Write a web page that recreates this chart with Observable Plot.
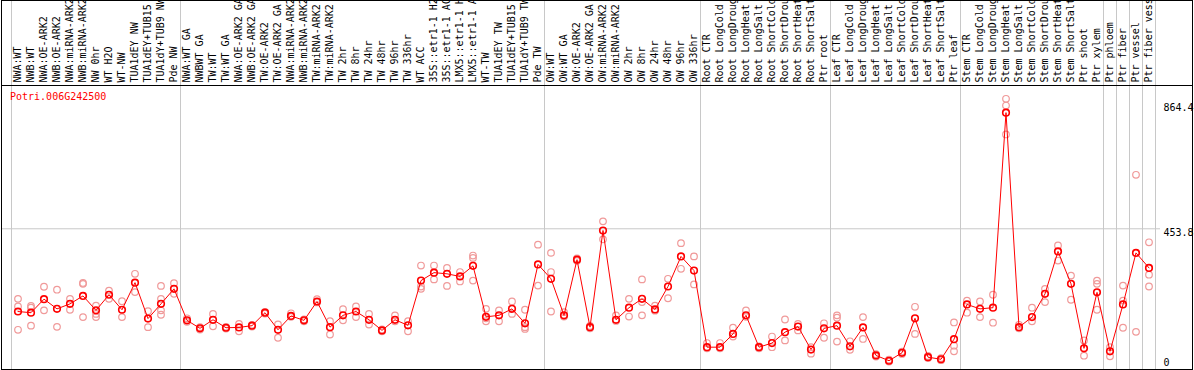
<!DOCTYPE html>
<html>
<head>
<meta charset="utf-8">
<script src="https://cdn.jsdelivr.net/npm/d3@7"></script>
<script src="https://cdn.jsdelivr.net/npm/@observablehq/plot@0.6"></script>
<style>
  html, body { margin: 0; padding: 0; background: white; }
</style>
</head>
<body>
<div id="chart"></div>
<script>
const geneName = "Potri.006G242500";

const labels = [
  "NWA:WT","NWB:WT","NWA:OE-ARK2","NWB:OE-ARK2","NWA:miRNA-ARK2","NWB:miRNA-ARK2","NW 0hr","WT H2O","WT-NW","TUA1dEY NW","TUA1dEY+TUB15 NW","TUA1dY+TUB9 NW","Pde NW",
  "NWA:WT GA","NWBWT GA","TW:WT","TW:WT GA","NWA:OE-ARK2 GA","NWB:OE-ARK2 GA","TW:OE-ARK2","TW:OE-ARK2 GA","NWA:miRNA-ARK2 GA","NWB:miRNA-ARK2 GA","TW:miRNA-ARK2","TW:miRNA-ARK2 GA",
  "TW 2hr","TW 8hr","TW 24hr","TW 48hr","TW 96hr","TW 336hr","WT ACC","35S::etr1-1 H2O","35S::etr1-1 ACC","LMX5::etr1-1 H2O","LMX5::etr1-1 ACC","WT-TW","TUA1dEY TW","TUA1dEY+TUB15 TW","TUA1dY+TUB9 TW","Pde TW",
  "OW:WT","OW:WT GA","OW:OE-ARK2","OW:OE-ARK2 GA","OW:miRNA-ARK2","OW:miRNA-ARK2 GA","OW 2hr","OW 8hr","OW 24hr","OW 48hr","OW 96hr","OW 336hr",
  "Root CTR","Root LongCold","Root LongDrought","Root LongHeat","Root LongSalt","Root ShortCold","Root ShortDrought","Root ShortHeat","Root ShortSalt","Ptr root",
  "Leaf CTR","Leaf LongCold","Leaf LongDrought","Leaf LongHeat","Leaf LongSalt","Leaf ShortCold","Leaf ShortDrought","Leaf ShortHeat","Leaf ShortSalt","Ptr leaf",
  "Stem CTR","Stem LongCold","Stem LongDrought","Stem LongHeat","Stem LongSalt","Stem ShortCold","Stem ShortDrought","Stem ShortHeat","Stem ShortSalt","Ptr shoot","Ptr xylem",
  "Ptr phloem","Ptr fiber","Ptr vessel","Ptr fiber vessel"
];

const mainValues = [
  173,169,215,182,199,226,177,230,179,271,149,199,250,
  143,116,145,118,119,125,169,111,158,143,207,120,160,173,145,109,145,126,278,305,301,292,328,155,160,182,133,333,
  284,160,349,120,448,145,186,216,180,258,360,312,
  52,52,97,160,52,66,103,122,44,116,
  125,55,119,24,6,33,150,18,11,79,
  197,182,186,848,120,154,233,377,267,48,238,
  38,197,372,321
];

const replicates = [
  [216,190,111],[192,186,125],[257,177],[247,121],[216,179],[267,270,154],[193,165,154],[244,216],[208,154],[301,239],[174,120],[260,216,177,162],[269,233],
  [150,138],[120,112],[165,123],[121,115],[131,106],[128,122],[172,166],[129,84],[167,155],[146,140],[215,204],[140,95],[181,143],[190,154],[165,129],[112,106],[160,140],[140,106],[329,258,250],[329,282],[321,260],[307,275],[363,355,278],[182,140,150],[177,140],[207,165],[179,114,120],[400,261],
  [372,307,173],[171,156],[353,345],[124,116],[479,418],[160,141],[216,156],[282,205,160],[193,176],[284,218],[405,318],[360,265],
  [66,48],[66,48],[118,88],[177,155],[55,48],[88,52],[146,75],[131,109],[52,30],[133,84],
  [160,152,71],[72,43],[154,80],[28,20],[10,3],[37,29],[189,97],[22,15],[15,8],[136,57,38],
  [210,169],[207,154],[230,135],[895,872,774],[128,116],[186,140],[250,205],[397,346],[295,213],[75,23],[278,267,179],
  [52,21],[261,210,118],[637,104],[408,298,258]
];

// group boundaries (category index where a group starts/ends)
const groupBounds = [0, 13, 41, 53, 63, 73, 84, 85, 86, 87, 88];

const yTicksCentered = [864.4, 0];
const yTicksBelow = [453.8];

const repPoints = replicates.flatMap((arr, i) => arr.map(v => ({i, v})));

const chart = Plot.plot({
  width: 1194,
  height: 370,
  marginTop: 85,
  marginLeft: 1,
  marginRight: 2,
  marginBottom: 1,
  x: {domain: [0, labels.length], range: [11, 1155], axis: null},
  y: {domain: [0, 864.4], range: [362, 107.3], axis: null},
  style: {fontFamily: "'DejaVu Sans Mono', monospace", fontSize: "10px", background: "white", overflow: "hidden"},
  marks: [
    Plot.ruleY(yTicksBelow, {stroke: "#c8c8c8", insetRight: 32}),
    Plot.ruleX(groupBounds, {stroke: "#c8c8c8", insetTop: -85}),
    Plot.frame({stroke: "black"}),
    Plot.frame({stroke: "black", insetTop: -85}),
    Plot.text(labels, {
      x: (d, i) => i + 0.5, text: d => d,
      frameAnchor: "top", dy: -3, rotate: -90,
      textAnchor: "start", lineAnchor: "middle", fill: "black"
    }),
    Plot.text([geneName], {
      frameAnchor: "top-left", dx: 8.5, dy: 7,
      lineAnchor: "top", textAnchor: "start", fill: "red"
    }),
    Plot.text(yTicksCentered, {
      y: d => d, text: d => String(d), frameAnchor: "right",
      textAnchor: "start", dx: -29, fill: "black"
    }),
    Plot.text(yTicksBelow, {
      y: d => d, text: d => String(d), frameAnchor: "right",
      textAnchor: "start", dx: -29, dy: 4, fill: "black"
    }),
    Plot.dot(repPoints, {x: d => d.i + 0.5, y: "v", r: 3.3, stroke: "#f09a9a", strokeWidth: 1.2, fill: "none"}),
    Plot.line(mainValues, {x: (d, i) => i + 0.5, y: d => d, stroke: "red", strokeWidth: 1}),
    Plot.dot(mainValues, {x: (d, i) => i + 0.5, y: d => d, r: 3.3, stroke: "red", strokeWidth: 1.6, fill: "none"})
  ]
});

document.getElementById("chart").appendChild(chart);
</script>
</body>
</html>
